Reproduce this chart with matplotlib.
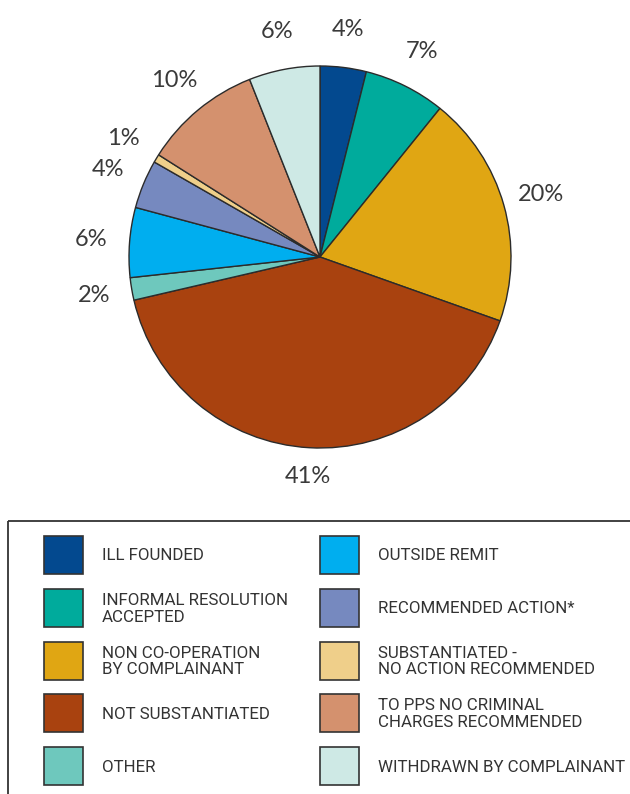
import matplotlib
matplotlib.use("Agg")
import matplotlib.pyplot as plt
from matplotlib.patches import Rectangle

# data
categories = ["ILL FOUNDED", "INFORMAL RESOLUTION\nACCEPTED", "NON CO-OPERATION\nBY COMPLAINANT",
              "NOT SUBSTANTIATED", "OTHER", "OUTSIDE REMIT", "RECOMMENDED ACTION*",
              "SUBSTANTIATED -\nNO ACTION RECOMMENDED", "TO PPS NO CRIMINAL\nCHARGES RECOMMENDED",
              "WITHDRAWN BY COMPLAINANT"]
shares = [3.9, 6.9, 19.6, 40.9, 1.9, 5.9, 4.1, 0.7, 10.0, 6.0]
pct_labels = ["4%", "7%", "20%", "41%", "2%", "6%", "4%", "1%", "10%", "6%"]
colors = ["#03498f", "#00ab9c", "#e0a613", "#a9420f", "#6ec8bd",
          "#00aeef", "#7689bf", "#efcf8a", "#d4916e", "#cee9e5"]

W, H = 630, 794
fig = plt.figure(figsize=(W / 100, H / 100), dpi=100)

# pie: centre (320, 257) px, radius 191 px
r = 191.0
ax = fig.add_axes([40 / W, (H - 257 - 250) / H, 560 / W, 500 / H])
wedges, texts = ax.pie(shares, labels=pct_labels, colors=colors, startangle=90,
                       counterclock=False, labeldistance=1.2,
                       wedgeprops=dict(edgecolor="#2b2b2b", linewidth=1.0),
                       textprops=dict(fontsize=17, color="#3a3a3a", family="Lato"))
for t in texts:
    t.set_ha("center")
    t.set_va("center")
# the big slice's label sits a bit closer in
x, y = texts[3].get_position()
texts[3].set_position((x * 1.15 / 1.2, y * 1.15 / 1.2))
ax.set_xlim(-280 / r, 280 / r)
ax.set_ylim(-250 / r, 250 / r)
ax.set_aspect("equal")
ax.axis("off")

# legend drawn in pixel coordinates
lg = fig.add_axes([0, 0, 1, 1])
lg.set_xlim(0, W)
lg.set_ylim(H, 0)
lg.axis("off")
lg.add_patch(Rectangle((8, 521), 700, 400, facecolor="none", edgecolor="#333333", linewidth=1.3))

for i, (name, c) in enumerate(zip(categories, colors)):
    col, row = divmod(i, 5)
    sx = 44 if col == 0 else 320
    cy = 555 + row * 52.75
    lg.add_patch(Rectangle((sx, cy - 19), 39, 38, facecolor=c, edgecolor="#333333", linewidth=1.2))
    lg.text(sx + 58, cy + 1, name, ha="left", va="center", fontsize=12.2, color="#333333",
            family="Roboto", linespacing=1.15)

fig.savefig("out.png", dpi=100)
